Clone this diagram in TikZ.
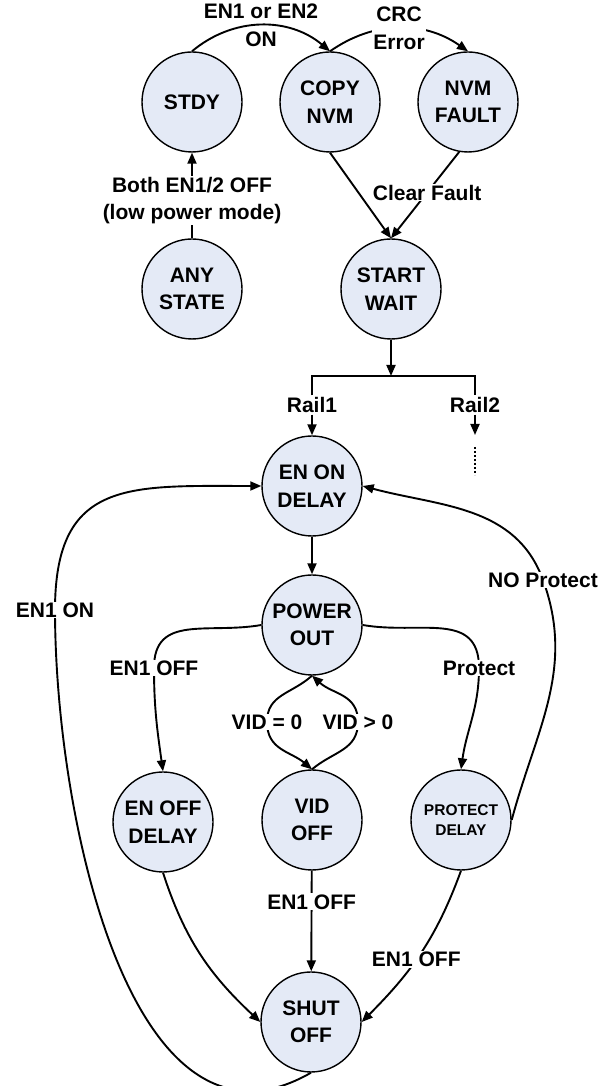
\documentclass[tikz,border=0pt]{standalone}
\usepackage{fontspec}
\setmainfont{Liberation Sans}
\usetikzlibrary{arrows.meta}
\definecolor{statefill}{RGB}{228,234,246}
\newcommand{\statefont}{\fontsize{21}{27.5}\selectfont\bfseries}
\newcommand{\smallstate}{\fontsize{15.5}{20}\selectfont\bfseries}

\begin{document}
\begin{tikzpicture}[x=1pt, y=1pt, line width=1.9pt,
    >={Triangle[length=11pt,width=9pt]},
    state/.style={circle, draw, fill=statefill, line width=1.4pt,
      minimum size=100pt, inner sep=0pt, align=center, font=\statefont},
    lbl/.style={fill=white, inner sep=1pt, align=center, font=\statefont},
    tag/.style={inner sep=1pt, align=center, font=\statefont}]
    \useasboundingbox (0,0) rectangle (604,1086);
    \node [state] (1) at (192,984) {STDY};
    \node [state] (2) at (330,984) {COPY\\NVM};
    \node [state] (3) at (468,984) {NVM\\FAULT};
    \node [state] (4) at (192,797) {ANY\\STATE};
    \node [state] (5) at (391,797) {START\\WAIT};
    \node [state] (6) at (312,600) {EN ON\\DELAY};
    \node [state] (7) at (312,461) {POWER\\OUT};
    \node [state] (8) at (163,264) {EN OFF\\DELAY};
    \node [state] (9) at (312,266) {VID\\OFF};
    \node [state, font=\smallstate] (10) at (461,266) {PROTECT\\DELAY};
    \node [state] (11) at (311,64) {SHUT\\OFF};
    \node [tag] (r1) at (312,681) {Rail1};
    \node [tag] (r2) at (475,681) {Rail2};
    \coordinate (a) at (391,710);
    \coordinate (b) at (475,651);
    \coordinate (c) at (475,639);
    \coordinate (d) at (475,611);
    \coordinate (e) at (154,418);
    \coordinate (f) at (479,418);
    \coordinate (g) at (267,364);
    \coordinate (h) at (358,364);
    \coordinate (i) at (55,476);
    \coordinate (j) at (543,506);
    \draw [->] (1.north) to [out=40, in=140] node [tag] {EN1 or EN2\\ON} (2.north);
    \draw [->] (2.north) to [out=35, in=145] node [lbl] {CRC\\Error} (3.north);
    \draw [->] (2.south) to (5.north);
    \draw [->] (3.-100) to node [lbl, pos=0.47] {Clear Fault} (5.north);
    \draw [->] (4) to node [lbl, pos=0.44] {Both EN1/2 OFF\\(low power mode)} (1);
    \draw [->] (5) to (a);
    \draw (r1.north) |- (a) -| (r2.north);
    \draw [->] (r1) to (6);
    \draw [->] (r2) to (b);
    \draw [line width=2pt, dash pattern=on 1.6pt off 2.4pt] (c) to (d);
    \draw [->] (6) to (7);
    \draw [->] (7.west) to [out=190, in=90, looseness=1.2] (e) node [lbl] {EN1 OFF}
      to [out=-90, in=98] (8.north);
    \draw [->] (7.east) to [out=-10, in=90, looseness=1.2] (f) node [lbl] {Protect}
      to [out=-90, in=82] (10.north);
    \draw [->] (7.south) to [out=222, in=90, looseness=1.1] (g) node [lbl] {VID = 0}
      to [out=-90, in=140, looseness=1.1] (9.north);
    \draw [->] (9.north) to [out=40, in=-90, looseness=1.1] (h) node [lbl] {VID > 0}
      to [out=90, in=-42, looseness=1.1] (7.south);
    \draw [->] (8.south) to [out=-72, in=137] (11.west);
    \draw [->] (9) to node [lbl, pos=0.31] {EN1 OFF} (11);
    \draw [->] (10.south) to [out=-110, in=45] node [lbl, pos=0.55] {EN1 OFF} (11.east);
    \draw [->] (11.south) to [out=210, in=-90] (i) node [lbl] {EN1 ON}
      to [out=90, in=180, looseness=1.4] (6.west);
    \draw [->] (10.east) to [out=75, in=-70] (j) node [lbl] {NO Protect}
      to [out=110, in=-15] (6.east);
\end{tikzpicture}
\end{document}
